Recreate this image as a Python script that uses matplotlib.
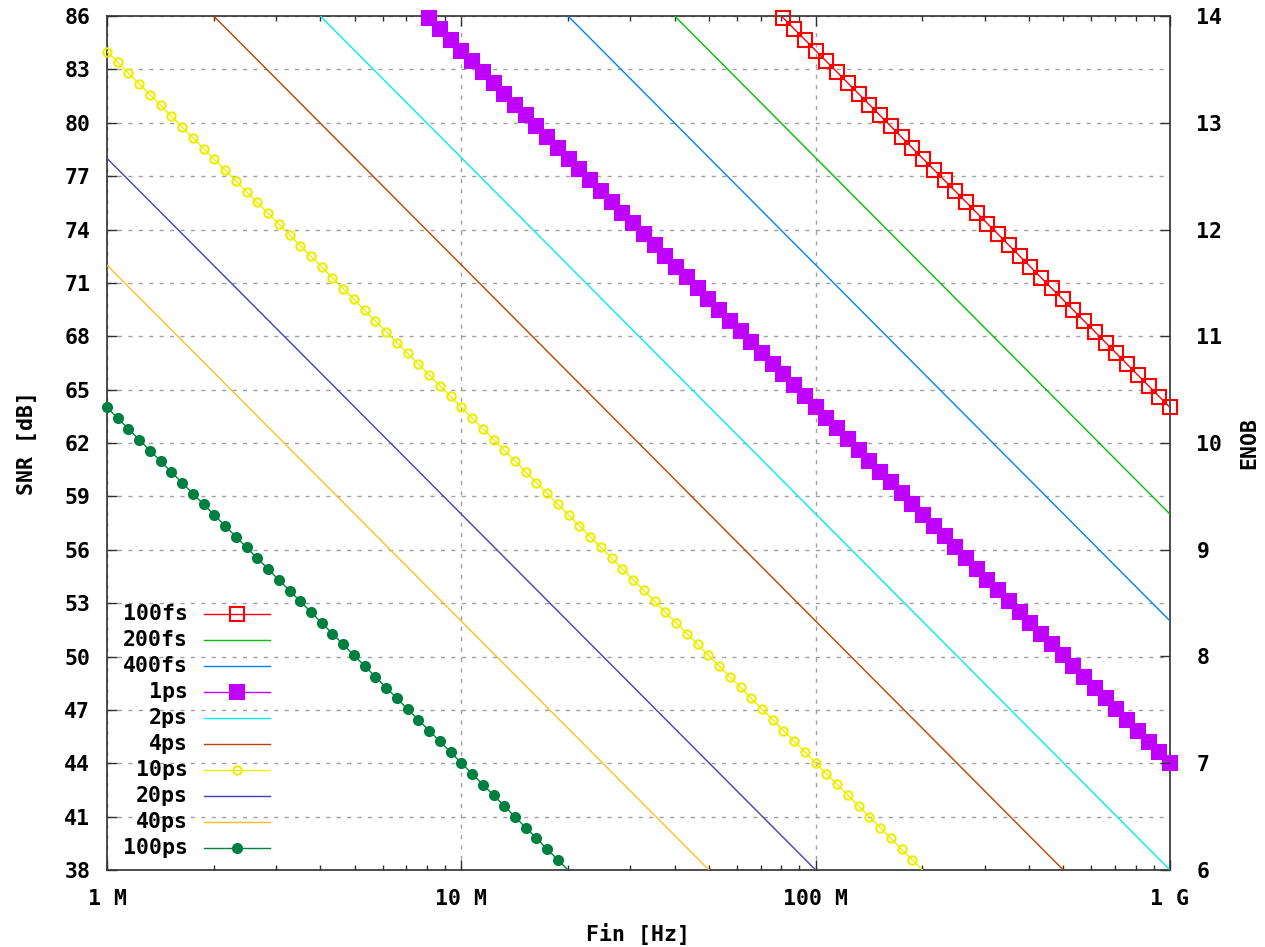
import numpy as np
import matplotlib
matplotlib.use('Agg')
import matplotlib.pyplot as plt

# clock jitter curves: SNR vs input frequency, straight lines on a log-f axis
labels = ['100fs', '200fs', '400fs', '1ps', '2ps', '4ps', '10ps', '20ps', '40ps', '100ps']
# where each curve enters and leaves the plot box (frequency in MHz, SNR in dB)
f_start = [80, 40, 20, 8, 4, 2, 1, 1, 1, 1]
snr_start = [86, 86, 86, 86, 86, 86, 84, 78, 72, 64]
f_end = [1000, 1000, 1000, 1000, 1000, 500, 200, 100, 50, 20]
snr_end = [64, 58, 52, 44, 38, 38, 38, 38, 38, 38]

colors = ['#ff0000', '#00c000', '#0080ff', '#c000ff', '#00eeee',
          '#c04000', '#eeee00', '#4040c0', '#ffc020', '#008040']
# (marker, size, filled) ; None = plain line
markers = [('s', 10, False), None, None, ('s', 9.5, True), None,
           None, ('o', 6, False), None, None, ('o', 6.5, True)]

x_ticks = [1e6, 1e7, 1e8, 1e9]
x_ticklabels = ['1 M', '10 M', '100 M', '1 G']
snr_ticks = list(range(38, 87, 3))
enob_ticks = list(range(6, 15))

# sample positions used for the point markers (100 samples over 3 decades)
f_samples = np.logspace(6, 9, 100)

plt.rcParams['font.family'] = ['DejaVu Sans Mono']
plt.rcParams['font.weight'] = 'bold'
plt.rcParams['axes.labelweight'] = 'bold'
fs = 15.5

fig = plt.figure(figsize=(12.65, 9.47), dpi=100)
W, H = 1265, 947
ax = fig.add_axes([107 / W, 1 - 870 / H, (1170 - 107) / W, (870 - 16) / H])

for i, lab in enumerate(labels):
    fx = np.array([f_start[i], f_end[i]]) * 1e6
    sy = np.array([snr_start[i], snr_end[i]])
    ax.plot(fx, sy, color=colors[i], lw=1.0, zorder=3)
    if markers[i] is not None:
        m, ms, filled = markers[i]
        fm = f_samples[(f_samples >= fx[0] * 0.999) & (f_samples <= fx[1] * 1.001)]
        sm = np.interp(np.log10(fm), np.log10(fx), sy)
        ax.plot(fm, sm, ls='none', marker=m, ms=ms, mew=1.5,
                mec=colors[i], mfc=colors[i] if filled else 'none',
                clip_on=False, zorder=4)

ax.set_xscale('log')
ax.set_xlim(1e6, 1e9)
ax.set_ylim(38, 86)
ax.set_xticks(x_ticks)
ax.set_xticklabels(x_ticklabels)
ax.set_yticks(snr_ticks)
ax.grid(True, which='major', color='#a0a0a0', lw=1.0, ls=(0, (3, 4.5)))
ax.set_axisbelow(True)

for s in ax.spines.values():
    s.set_color('#303030')
    s.set_linewidth(1.2)

ax.tick_params(which='both', direction='in', top=True, right=True,
               color='#303030', width=1.0, labelsize=fs)
ax.tick_params(which='major', length=7.5)
ax.tick_params(which='minor', length=3.8)
ax.tick_params(axis='x', pad=14)
ax.tick_params(axis='y', pad=12)

ax2 = ax.twinx()
ax2.set_ylim(6, 14)
ax2.set_yticks(enob_ticks)
ax2.tick_params(direction='in', length=7.5, width=1.0, color='#303030',
                labelsize=fs, pad=19)
for s in ax2.spines.values():
    s.set_visible(False)

ax.set_xlabel('Fin [Hz]', fontsize=fs, labelpad=10)
ax.set_ylabel('SNR [dB]', fontsize=fs, labelpad=20)
ax2.set_ylabel('ENOB', fontsize=fs, labelpad=12)

# legend: right-aligned names followed by a line sample
for i, lab in enumerate(labels):
    y = 1 - (614 + i * 26) / H
    fig.text(188 / W, y, lab, ha='right', va='center', fontsize=fs)
    fig.add_artist(plt.Line2D([204 / W, 270 / W], [y, y], color=colors[i], lw=1.0))
    if markers[i] is not None:
        m, ms, filled = markers[i]
        fig.add_artist(plt.Line2D([237 / W], [y], ls='none', marker=m, ms=ms, mew=1.5,
                                  mec=colors[i], mfc=colors[i] if filled else 'none'))

fig.savefig('out.png', dpi=100)
